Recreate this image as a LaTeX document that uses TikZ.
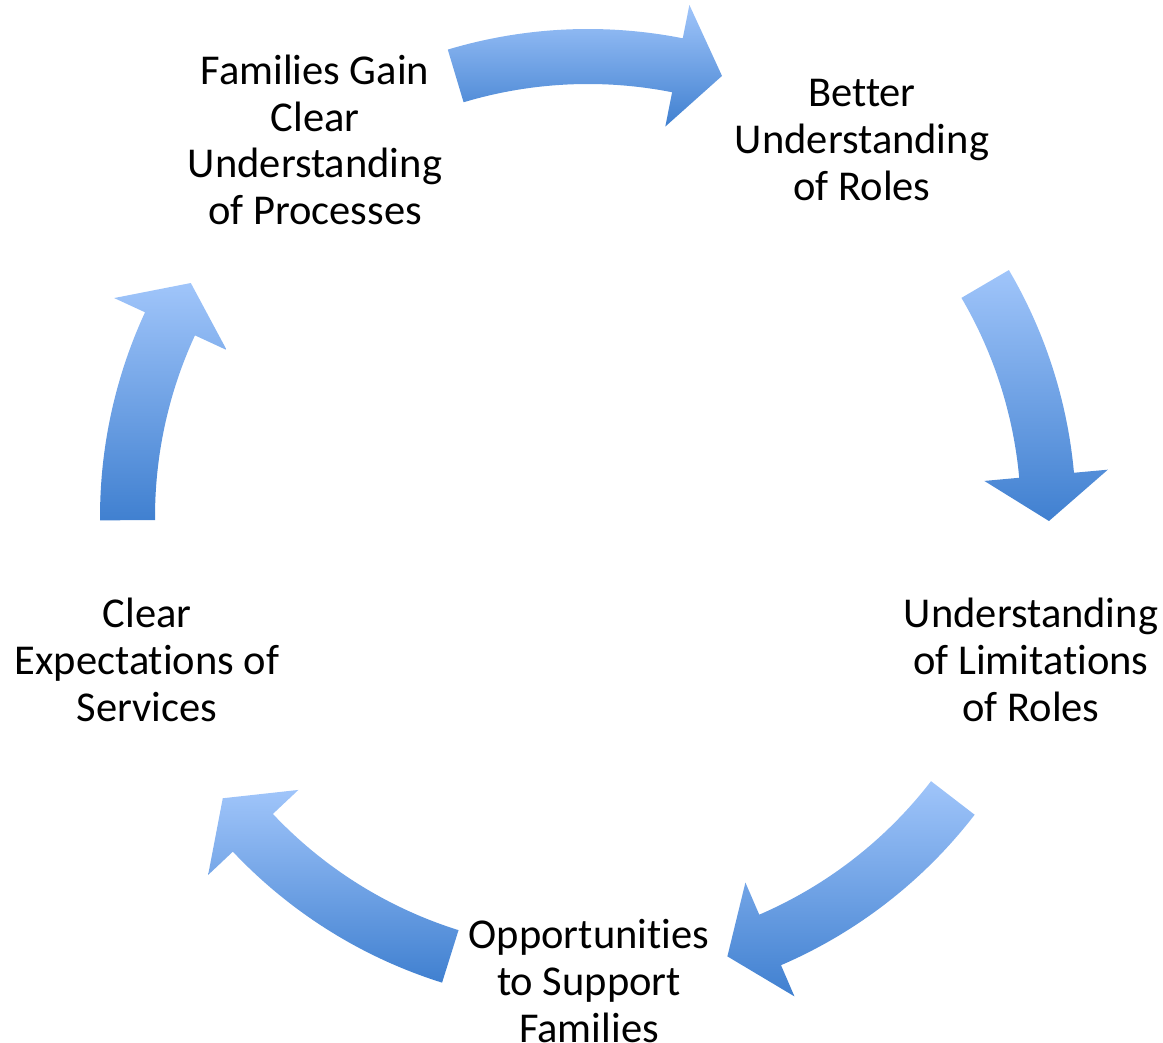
\documentclass[tikz,border=0pt]{standalone}
\usepackage{fontspec}
\setmainfont{Carlito}[Ligatures=NoCommon]
\definecolor{arrtop}{RGB}{160,197,250}
\definecolor{arrbot}{RGB}{64,128,208}
\tikzset{
  cyclearrow/.style={top color=arrtop, bottom color=arrbot, draw=none},
  lbl/.style={align=center, text=black, inner sep=0pt, font=\fontsize{42.5}{46.7}\selectfont}
}
% #1 tail angle, #2 tip angle
\newcommand{\cycarrow}[3]{%
  \pgfmathsetmacro{\hb}{#2+5.7}%
  \path[cyclearrow] (#1:488) arc[start angle=#1, end angle=\hb, radius=488]
    -- (\hb:522) -- (#2:461) coordinate (#3) -- (\hb:398) -- (\hb:433)
    arc[start angle=\hb, end angle=#1, radius=433] -- cycle;}
\begin{document}
\begin{tikzpicture}[x=1pt,y=1pt]
\useasboundingbox (0,0) rectangle (1163,1043);
\node[lbl] (n1) at (315,903) {Families Gain\\Clear\\Understanding\\of Processes};
\node[lbl] (n2) at (862,903) {Better\\Understanding\\of Roles};
\node[lbl] (n3) at (1031,383) {Understanding\\of Limitations\\of Roles};
\node[lbl] (n4) at (589,62) {Opportunities\\to Support\\Families};
\node[lbl] (n5) at (147,383) {Clear\\Expectations of\\Services};
\begin{scope}[shift={(588,526)}]
\cycarrow{106.7}{73.1}{a1}
\cycarrow{30.4}{-0.5}{a2}
\cycarrow{-37.6}{-72.4}{a3}
\cycarrow{252.6}{217.6}{a4}
\cycarrow{180.4}{149.5}{a5}
\end{scope}
\end{tikzpicture}
\end{document}
